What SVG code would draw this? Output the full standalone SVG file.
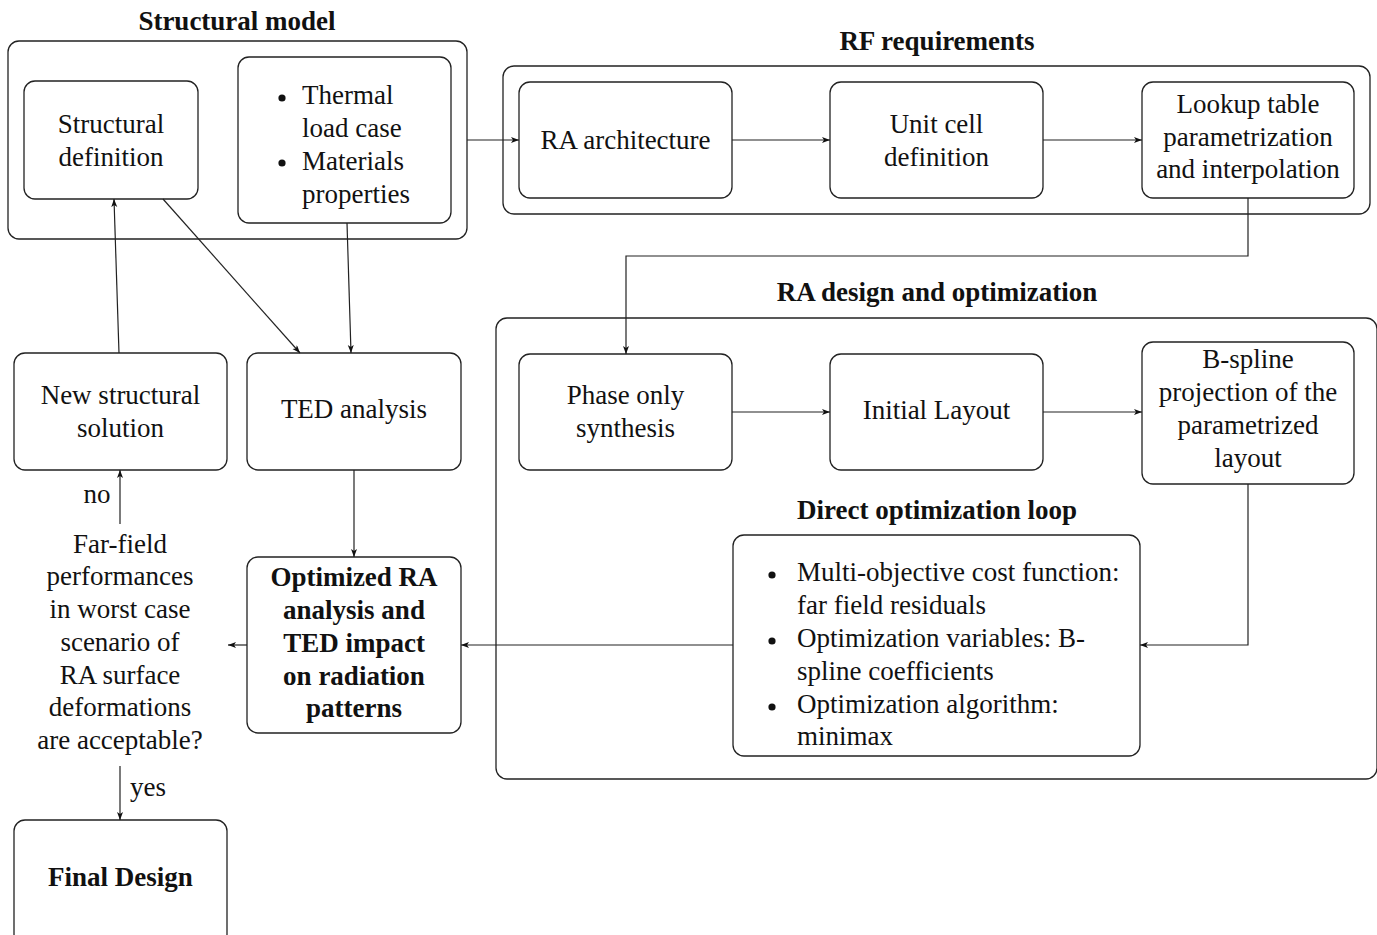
<svg xmlns="http://www.w3.org/2000/svg" width="1377" height="935" viewBox="0 0 1377 935">
<style>
  text { font-family: "Liberation Serif", "Times New Roman", serif; font-size: 27px; fill: #111; }
  .c { text-anchor: middle; }
  .b { font-weight: bold; }
  .box { fill: none; stroke: #222; stroke-width: 1.3; }
  .con { fill: none; stroke: #222; stroke-width: 1.2; }
  .dot { fill: #111; }
</style>
<defs>
  <marker id="ah" markerUnits="userSpaceOnUse" markerWidth="10" markerHeight="8" refX="8" refY="3" orient="auto">
    <path d="M0,0 L8,3 L0,6 L2,3 z" fill="#111"/>
  </marker>
</defs>

<g id="group-structural">
  <rect class="box" x="8" y="41" width="459" height="198" rx="11"/>
  <text class="c b" x="237" y="30">Structural model</text>
</g>
<g id="group-rf">
  <rect class="box" x="503" y="66" width="867" height="148" rx="11"/>
  <text class="c b" x="937" y="50">RF requirements</text>
</g>
<g id="group-radesign">
  <rect class="box" x="496" y="318" width="881" height="461" rx="11"/>
  <text class="c b" x="937" y="301">RA design and optimization</text>
</g>

<g id="structural-definition">
  <rect class="box" x="24" y="81" width="174" height="118" rx="11"/>
  <text class="c" x="111" y="133">Structural</text>
  <text class="c" x="111" y="166">definition</text>
</g>
<g id="thermal">
  <rect class="box" x="238" y="57" width="213" height="166" rx="11"/>
  <circle class="dot" cx="282" cy="98" r="3.6"/>
  <text x="302" y="104">Thermal</text>
  <text x="302" y="137">load case</text>
  <circle class="dot" cx="282" cy="163" r="3.6"/>
  <text x="302" y="170">Materials</text>
  <text x="302" y="203">properties</text>
</g>
<g id="ra-architecture">
  <rect class="box" x="519" y="82" width="213" height="116" rx="11"/>
  <text class="c" x="625.5" y="149">RA architecture</text>
</g>
<g id="unit-cell">
  <rect class="box" x="830" y="82" width="213" height="116" rx="11"/>
  <text class="c" x="936.5" y="133">Unit cell</text>
  <text class="c" x="936.5" y="166">definition</text>
</g>
<g id="lookup">
  <rect class="box" x="1142" y="82" width="212" height="116" rx="11"/>
  <text class="c" x="1248" y="113">Lookup table</text>
  <text class="c" x="1248" y="146">parametrization</text>
  <text class="c" x="1248" y="178">and interpolation</text>
</g>
<g id="new-structural">
  <rect class="box" x="14" y="353" width="213" height="117" rx="11"/>
  <text class="c" x="120.5" y="404">New structural</text>
  <text class="c" x="120.5" y="437">solution</text>
</g>
<g id="ted-analysis">
  <rect class="box" x="247" y="353" width="214" height="117" rx="11"/>
  <text class="c" x="354" y="418">TED analysis</text>
</g>
<g id="phase-only">
  <rect class="box" x="519" y="354" width="213" height="116" rx="11"/>
  <text class="c" x="625.5" y="404">Phase only</text>
  <text class="c" x="625.5" y="437">synthesis</text>
</g>
<g id="initial-layout">
  <rect class="box" x="830" y="354" width="213" height="116" rx="11"/>
  <text class="c" x="936.5" y="419">Initial Layout</text>
</g>
<g id="bspline">
  <rect class="box" x="1142" y="342" width="212" height="142" rx="11"/>
  <text class="c" x="1248" y="368">B-spline</text>
  <text class="c" x="1248" y="401">projection of the</text>
  <text class="c" x="1248" y="434">parametrized</text>
  <text class="c" x="1248" y="467">layout</text>
</g>
<g id="direct-optimization">
  <text class="c b" x="937" y="519">Direct optimization loop</text>
  <rect class="box" x="733" y="535" width="407" height="221" rx="11"/>
  <circle class="dot" cx="772" cy="575" r="3.6"/>
  <text x="797" y="581">Multi-objective cost function:</text>
  <text x="797" y="614">far field residuals</text>
  <circle class="dot" cx="772" cy="641" r="3.6"/>
  <text x="797" y="647">Optimization variables: B-</text>
  <text x="797" y="680">spline coefficients</text>
  <circle class="dot" cx="772" cy="707" r="3.6"/>
  <text x="797" y="713">Optimization algorithm:</text>
  <text x="797" y="745">minimax</text>
</g>
<g id="optimized-ra">
  <rect class="box" x="247" y="557" width="214" height="176" rx="11"/>
  <text class="c b" x="354" y="586">Optimized RA</text>
  <text class="c b" x="354" y="619">analysis and</text>
  <text class="c b" x="354" y="652">TED impact</text>
  <text class="c b" x="354" y="685">on radiation</text>
  <text class="c b" x="354" y="717">patterns</text>
</g>
<g id="decision">
  <text class="c" x="120" y="553">Far-field</text>
  <text class="c" x="120" y="585">performances</text>
  <text class="c" x="120" y="618">in worst case</text>
  <text class="c" x="120" y="651">scenario of</text>
  <text class="c" x="120" y="684">RA surface</text>
  <text class="c" x="120" y="716">deformations</text>
  <text class="c" x="120" y="749">are acceptable?</text>
</g>
<g id="final-design">
  <rect class="box" x="14" y="820" width="213" height="125" rx="11"/>
  <text class="c b" x="120.5" y="886">Final Design</text>
</g>

<g id="connectors">
  <line class="con" x1="467" y1="140" x2="519" y2="140" marker-end="url(#ah)"/>
  <line class="con" x1="732" y1="140" x2="830" y2="140" marker-end="url(#ah)"/>
  <line class="con" x1="1043" y1="140" x2="1142" y2="140" marker-end="url(#ah)"/>
  <polyline class="con" points="1248,198 1248,256 626,256 626,354" marker-end="url(#ah)"/>
  <line class="con" x1="732" y1="412" x2="830" y2="412" marker-end="url(#ah)"/>
  <line class="con" x1="1043" y1="412" x2="1142" y2="412" marker-end="url(#ah)"/>
  <polyline class="con" points="1248,484 1248,645 1140,645" marker-end="url(#ah)"/>
  <line class="con" x1="733" y1="645" x2="461" y2="645" marker-end="url(#ah)"/>
  <line class="con" x1="247" y1="645" x2="228" y2="645" marker-end="url(#ah)"/>
  <line class="con" x1="354" y1="470" x2="354" y2="557" marker-end="url(#ah)"/>
  <line class="con" x1="163" y1="199" x2="300" y2="353" marker-end="url(#ah)"/>
  <line class="con" x1="347" y1="223" x2="351" y2="353" marker-end="url(#ah)"/>
  <line class="con" x1="119" y1="353" x2="114" y2="199" marker-end="url(#ah)"/>
  <line class="con" x1="120" y1="524" x2="120" y2="470" marker-end="url(#ah)"/>
  <text x="97" y="503" class="c">no</text>
  <line class="con" x1="120" y1="766" x2="120" y2="820" marker-end="url(#ah)"/>
  <text x="130" y="796">yes</text>
</g>
</svg>
